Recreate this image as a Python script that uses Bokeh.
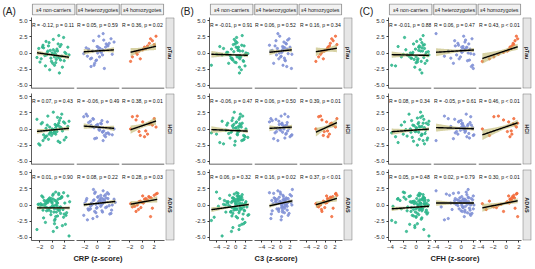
import numpy as np
from bokeh.plotting import figure
from bokeh.layouts import row, column
from bokeh.models import Range1d, FactorRange, LinearAxis, FixedTicker, PrintfTickFormatter, Span
from bokeh.embed import file_html
from bokeh.resources import INLINE
from bokeh.core.properties import value

# ---------------- data ----------------
GENOTYPES = ["ε4 non-carriers", "ε4 heterozygotes", "ε4 homozygotes"]
OUTCOMES = ["pTau", "HCI", "ADAS"]
PANEL_LABELS = ["(A)", "(B)", "(C)"]
X_TITLES = ["CRP (z-score)", "C3 (z-score)", "CFH (z-score)"]
X_RANGES = [(-3.4, 3.7), (-5.6, 3.6), (-4.3, 2.4)]
X_TICKS = [[-2, 0, 2], [-4, -2, 0, 2], [-4, -2, 0, 2]]
Y_TICKS = [-5.0, -2.5, 0.0, 2.5, 5.0]
Y_RANGE = (-5.5, 5.5)

# outcome z-scores (same subjects in every panel)
y_ptau_nc = [0.4, -0.8, 1.2, -1.5, 0.1, -0.3, 2.1, -2.2, 0.7, -0.6, 1.6, -1.1, 0.0, -0.4, 0.9, -1.9, 0.3, 1.4, -0.9, -0.2, 2.4, -1.3, 0.6, -0.7, 1.0, -2.6, 0.2, -0.1, 1.8, -1.6, -0.5, 0.8, -1.0, 1.1, -0.3, 0.5, -1.4, 2.7, -0.8, 0.3, -2.0, 1.3, -0.6, 0.1, -1.2, 0.9, -0.2, -3.1]
y_ptau_het = [0.5, -0.9, 1.4, 0.1, -1.6, 2.2, 0.8, -0.3, 1.0, -2.4, 0.3, 1.7, -0.6, 0.6, 3.0, -1.2, 0.2, 1.1, -0.1, 2.6, -0.8, 0.9, 0.4, -1.9, 1.5, 0.0, -0.5, 2.0, 0.7, -1.1, 1.2, -2.1, 0.5, 1.9, -0.2, 0.9]
y_ptau_hom = [0.3, 1.5, -0.6, 0.9, 2.6, 0.1, -1.3, 1.1, 0.5, 1.9, -0.2, 0.7, 2.2, -0.9, 1.3]
y_hci_nc = [-0.5, 1.3, -1.8, 0.2, 0.9, -1.1, 2.6, -0.3, -2.3, 0.6, -0.8, 1.7, 0.0, -1.4, 0.4, -0.6, 2.0, -1.9, 0.8, -0.2, 1.1, -1.0, -0.4, 1.5, -2.1, 0.3, 0.7, -1.3, 0.1, -0.7, 2.3, -0.9, 0.5, -1.6, 1.2, -0.1, -2.5, 0.9, -0.5, 1.8, -1.2, 0.2, -0.3, 0.6, -1.7, 1.0, -0.8, 0.4]
y_hci_het = [0.3, 1.2, -0.7, 0.8, -1.5, 0.1, 2.3, -0.4, 0.6, -1.0, 1.6, 0.0, -0.2, 1.0, -1.8, 0.5, 0.9, -0.6, 1.9, -0.1, 0.4, -1.2, 1.3, 0.2, -0.8, 0.7, 2.0, -0.3, 0.1, -1.4, 1.1, 0.6, -0.5, 1.5, -0.9, 0.3]
y_hci_hom = [-0.4, 0.8, 1.9, -1.2, 0.3, 1.4, 0.0, -0.8, 1.1, 0.6, 2.0, -0.3, 0.9, -1.0, 1.6]
y_adas_nc = [0.6, -0.4, 1.2, -1.8, 0.3, -0.9, 1.7, -3.2, 0.1, -0.6, 0.9, -1.3, 0.5, -0.2, 1.4, -2.4, 0.8, -0.7, 0.0, -1.1, 1.9, -0.3, 0.4, -3.8, 1.0, -0.5, 0.7, -1.6, 0.2, -0.1, 1.3, -2.0, 0.6, -0.8, -4.8, 0.9, -0.4, 1.6, -1.0, 0.3, -2.7, 1.1, -0.6, 0.5, -1.4, 0.0, 2.0, -0.9, 0.8, -3.5, 0.2, -0.3, 1.5, -1.2, 0.4, -2.2, 0.7, -0.7, 1.0, -1.7, 0.1, -0.2, 1.8, -0.5, -3.0, 0.6, -1.1, 0.3, 1.2, -0.8, -2.9, 0.5, -0.4, 0.9, -1.5, 0.0, 1.4, -0.6, -4.1, 0.8, -1.9, 0.2, -0.1, 1.1]
y_adas_het = [0.4, -0.6, 1.1, 0.0, 1.8, -1.3, 0.7, 0.2, -0.4, 1.4, -2.1, 0.9, 0.5, -0.8, 2.2, 0.1, -0.2, 1.0, -1.6, 0.6, 0.3, 1.6, -0.9, 0.8, -0.1, 1.2, -2.3, 0.4, 0.9, -0.5, 1.9, 0.2, -1.1, 0.7, 0.0, 1.3, -0.7, 0.5, -1.8, 1.1, 0.3, -0.3, 2.0, 0.6, -1.4, 0.1, 0.9, -0.6, 1.5, 0.4, -1.0, 0.8, 0.2, -0.2, 1.7, -1.2, 0.5, 1.0, -0.4, 0.3, 2.4, -0.8, 0.7, 0.0]
y_adas_hom = [0.5, 1.2, -0.3, 0.9, 1.7, -1.0, 0.2, 0.7, 1.4, -0.5, 0.0, 1.0, -1.8, 0.6, 1.5, 0.3, -0.2, 1.1, 0.8, -0.7, 1.8, 0.4, 0.1, 1.3, -0.4]

# predictor z-scores per panel
x_crp_nc = [-0.3, 1.2, -1.5, 0.6, 2.1, -0.9, 0.2, 1.7, -2.2, 0.9, -0.5, 1.4, 0.0, -1.2, 2.6, 0.4, -0.7, 1.0, -1.8, 0.3, 1.9, -0.1, 0.8, -2.5, 1.3, -0.4, 0.5, 2.3, -1.0, 0.1, 1.6, -1.4, 0.7, -0.6, 2.8, 0.2, -2.0, 1.1, -0.2, 0.9, -1.1, 1.5, 0.4, -0.8, 2.0, -1.6, 0.6, 1.2, -0.3, 0.8, -1.9, 1.4, 0.1, 2.4, -0.7, 0.5, -1.3, 1.8, -0.1, 0.9, -2.3, 0.3, 1.1, -0.5, 2.2, -1.0, 0.7, 0.0, 1.6, -1.5, 0.4, 2.9, -0.9, 1.0, -0.2, 0.6, -1.7, 1.3, 0.2, -0.6, 1.9, -1.2, 0.8, -0.4]
x_crp_het = [0.2, -1.1, 1.5, 0.7, -0.4, 2.3, -1.8, 0.9, 0.0, 1.2, -0.7, 2.8, 0.4, -1.4, 1.0, -0.2, 0.6, 1.8, -2.2, 0.3, -0.9, 1.4, 0.8, -0.5, 2.0, 0.1, -1.6, 1.1, 0.5, -0.1, 1.7, -1.0, 0.9, -0.6, 2.5, 0.2, -1.3, 1.3, 0.0, 0.7, -2.0, 1.6, -0.3, 0.4, 2.1, -0.8, 1.0, -1.5, 0.6, 3.0, -0.4, 1.2, 0.3, -1.1, 1.9, -0.2, 0.8, -1.7, 1.4, 0.1, -0.6, 2.4, 0.5, -0.9]
x_crp_hom = [-0.5, 1.2, -1.6, 0.4, 2.3, -1.0, -1.9, 0.9, 0.1, 1.7, -0.8, 0.6, 1.4, -0.3, 2.0, 0.2, -1.2, 1.5, 0.8, -0.6, 2.5, 0.0, -1.4, 1.1, -0.2]
x_c3_nc = [0.5, -0.8, 1.3, 0.1, -1.7, 1.9, -0.3, 0.8, -2.6, 1.1, 0.3, -0.6, 2.2, -1.2, 0.6, -5.2, 1.5, -0.1, 0.9, -2.1, 0.2, 1.7, -0.9, 0.7, -3.4, 1.2, -0.4, 2.6, 0.0, -1.5, 1.0, 0.4, -0.7, 1.8, -2.9, 0.6, -0.2, 1.4, -1.0, 0.9, 2.0, -0.5, 0.3, -1.9, 1.6, 0.1, -4.1, 0.8, 1.1, -0.6, 0.4, 2.4, -1.3, 0.7, -0.1, 1.5, -2.4, 0.2, 1.0, -0.8, 1.9, -3.7, 0.5, -0.3, 1.3, 0.0, -1.1, 2.1, 0.6, -0.4, 1.7, -1.6, 0.9, -0.2, 2.8, -2.2, 0.3, 1.2, -0.9, 0.8, -4.6, 1.4, 0.1, -0.7]
x_c3_het = [0.6, -0.4, 1.2, 0.2, -1.5, 1.8, 0.9, -0.9, 0.4, 2.3, -2.1, 0.7, 0.0, 1.4, -0.6, 1.0, 0.3, -1.2, 1.6, -0.2, 0.8, 2.0, -1.8, 0.5, 1.1, -0.3, 0.1, 1.5, -0.7, 0.9, -2.4, 1.3, 0.4, -1.0, 2.4, 0.6, -0.5, 1.7, 0.2, -1.4, 1.0, 0.7, -0.1, 1.9, -2.0, 0.3, 1.2, -0.8, 0.5, 2.2, -0.4, 0.9, -1.6, 1.4, 0.0, 0.8, -1.1, 1.6, 0.2, -0.6, 2.5, 0.4, -1.9, 1.1]
x_c3_hom = [-0.3, 1.0, -1.5, 0.5, 2.1, -0.8, -2.1, 0.8, 0.2, 1.6, -1.1, 0.4, 1.3, -0.5, 2.4, 0.0, -1.7, 1.2, 0.7, -0.9, 2.2, 0.3, -1.3, 1.5, -0.2]
x_cfh_nc = [0.4, -0.7, 1.1, 0.0, 1.6, -1.4, 0.7, -0.2, 1.3, -2.3, 0.9, 0.2, -0.9, 1.8, 0.5, -3.8, 1.0, -0.4, 0.3, 1.5, -1.8, 0.8, -0.1, 1.2, -2.8, 0.6, 1.9, -0.6, 0.1, 1.4, -1.1, 0.9, -0.3, 0.5, 2.0, -1.6, 0.2, 1.1, -0.8, 0.7, -3.2, 1.3, 0.0, -0.5, 1.7, 0.4, -2.0, 0.9, 0.6, -0.2, 1.2, -1.3, 0.3, 1.8, -0.7, 0.8, -2.5, 1.0, 0.1, -0.4, 1.5, -3.6, 0.5, 0.9, -1.0, 1.3, -0.1, 0.7, -1.9, 1.6, 0.2, -0.6, 1.1, -2.9, 0.4, 1.9, -0.9, 0.6, -1.5, 1.4, 0.0, -0.3, 0.8, 1.2]
x_cfh_het = [0.5, -0.3, 1.2, 0.1, -1.2, 1.7, 0.8, -0.7, 0.3, 1.9, -2.0, 0.6, -0.1, 1.4, -3.9, 1.0, 0.2, -0.9, 1.5, 0.4, -1.6, 0.9, 0.0, 1.8, -0.5, 1.1, -2.6, 0.7, 0.3, 1.3, -0.4, 1.6, 0.6, -1.0, 2.0, 0.1, -1.4, 1.2, 0.5, -0.2, 1.7, -3.1, 0.8, 0.0, 1.4, -0.8, 0.4, 1.9, -1.8, 0.9, 0.2, -0.6, 1.3, 0.7, -2.3, 1.0, -0.1, 1.6, 0.3, -1.1, 1.1, 0.6, -0.4, 1.5]
x_cfh_hom = [0.2, 1.1, -1.9, 0.6, 1.6, -0.4, -3.7, 0.9, 0.4, 1.4, -1.2, 0.8, 1.8, -2.6, 1.2, 0.5, -2.2, 1.3, 0.7, -3.1, 1.7, 0.1, -0.8, 1.0, -1.5]

# fitted lines: rows = outcome, cols = genotype
fit_slope_crp = [[-0.13, 0.06, 0.22], [0.09, -0.07, 0.32], [0.00, 0.10, 0.17]]
fit_icpt_crp = [[-0.29, 0.32, 0.54], [-0.15, 0.30, 0.50], [-0.45, 0.25, 0.45]]
fit_slope_c3 = [[-0.02, 0.08, 0.12], [-0.03, 0.04, 0.33], [0.10, 0.16, 0.22]]
fit_icpt_c3 = [[-0.30, 0.30, 0.45], [-0.25, 0.20, 0.20], [-0.20, 0.25, 0.50]]
fit_slope_cfh = [[-0.02, 0.06, 0.33], [0.07, -0.03, 0.34], [0.07, 0.00, 0.20]]
fit_icpt_cfh = [[-0.33, 0.35, 0.37], [-0.15, 0.10, 0.35], [-0.33, 0.30, 0.30]]
sample_n = [[150, 110, 38], [150, 110, 38], [300, 240, 65]]

stats_crp = [["R = -0.12, p = 0.11", "R = 0.05, p = 0.59", "R = 0.36, p = 0.02"],
             ["R = 0.07, p = 0.43", "R = -0.06, p = 0.49", "R = 0.38, p = 0.01"],
             ["R = 0.01, p = 0.90", "R = 0.08, p = 0.22", "R = 0.28, p = 0.03"]]
stats_c3 = [["R = -0.01, p = 0.91", "R = 0.06, p = 0.52", "R = 0.16, p = 0.34"],
            ["R = -0.06, p = 0.47", "R = 0.06, p = 0.50", "R = 0.39, p = 0.01"],
            ["R = 0.06, p = 0.32", "R = 0.16, p = 0.02", "R = 0.37, p < 0.01"]]
stats_cfh = [["R = -0.01, p = 0.88", "R = 0.06, p = 0.47", "R = 0.43, p < 0.01"],
             ["R = 0.08, p = 0.34", "R = -0.05, p = 0.61", "R = 0.46, p < 0.01"],
             ["R = 0.05, p = 0.48", "R = 0.02, p = 0.79", "R = 0.30, p < 0.01"]]

# ---------------- assembly ----------------
Y_DATA = [[y_ptau_nc, y_ptau_het, y_ptau_hom],
          [y_hci_nc, y_hci_het, y_hci_hom],
          [y_adas_nc, y_adas_het, y_adas_hom]]
X_DATA = [[x_crp_nc, x_crp_het, x_crp_hom],
          [x_c3_nc, x_c3_het, x_c3_hom],
          [x_cfh_nc, x_cfh_het, x_cfh_hom]]
FITS = [(fit_slope_crp, fit_icpt_crp), (fit_slope_c3, fit_icpt_c3), (fit_slope_cfh, fit_icpt_cfh)]
STATS = [stats_crp, stats_c3, stats_cfh]

COLORS = ["#2db58b", "#8090d6", "#f26b3b"]
BAND = "#bdb468"
AXIS_COL = "#333333"
FONT = "Liberation Sans"
RESID_SD = 1.0

LW, FW, FH, SW = 31, 43, 71, 9
ROW_TB = [(0, 2), (3, 2), (3, 13)]
TITLE_H = 16
PANEL_W = [178, 179, 178]


def base_fig(fw, fh, xr, yr, bl=0, br=0, bt=0, bb=0):
    p = figure(frame_width=fw, frame_height=fh, x_range=xr, y_range=yr,
               x_axis_location=None, y_axis_location=None, toolbar_location=None,
               output_backend="svg", title=None,
               min_border_left=bl, min_border_right=br, min_border_top=bt, min_border_bottom=bb)
    p.outline_line_color = None
    p.xgrid.visible = False
    p.ygrid.visible = False
    p.background_fill_color = "white"
    p.border_fill_color = "white"
    return p


def style_axis(ax):
    ax.axis_line_color = AXIS_COL
    ax.axis_line_width = 0.8
    ax.major_tick_line_color = AXIS_COL
    ax.major_tick_out = 2
    ax.major_tick_in = 0
    ax.minor_tick_line_color = None
    ax.major_label_text_font = FONT
    ax.major_label_text_font_size = "6px"
    ax.major_label_text_color = "#333333"
    ax.major_label_standoff = 2


def facet(pi, r, g):
    xs_all = np.array(X_DATA[pi][g], dtype=float)
    ys = np.array(Y_DATA[r][g], dtype=float)
    xs = xs_all[:len(ys)]
    bt, bb = ROW_TB[r]
    bl = LW if g == 0 else 1
    xr = Range1d(*X_RANGES[pi])
    yr = Range1d(*Y_RANGE)
    p = base_fig(FW, FH, xr, yr, bl=bl, br=1, bt=bt, bb=bb)

    p.scatter(xs, ys, size=2.3, color=COLORS[g], alpha=0.85)

    slope = FITS[pi][0][r][g]
    icpt = FITS[pi][1][r][g]
    n = sample_n[r][g]
    grid = np.linspace(xs.min(), xs.max(), 60)
    yfit = icpt + slope * grid
    half = 1.96 * RESID_SD * np.sqrt(1.0 / n + (grid - xs.mean()) ** 2 / (n * xs.var()))
    p.varea(x=grid, y1=yfit - half, y2=yfit + half, fill_color=BAND, fill_alpha=0.6)
    p.line(grid, yfit, line_color="black", line_width=1.4)

    x0 = X_RANGES[pi][0] + 0.01 * (X_RANGES[pi][1] - X_RANGES[pi][0])
    p.text(x=[x0], y=[4.35], text=[STATS[pi][r][g]], text_font=value(FONT),
           text_font_size="5.1px", text_baseline="middle", text_align="left", text_color="#111111")

    if r < 2:
        p.add_layout(Span(location=Y_RANGE[0], dimension="width", line_color=AXIS_COL, line_width=1.6))
    else:
        ax = LinearAxis(ticker=FixedTicker(ticks=X_TICKS[pi]))
        style_axis(ax)
        p.add_layout(ax, "below")
    if g == 0:
        ay = LinearAxis(ticker=FixedTicker(ticks=Y_TICKS), formatter=PrintfTickFormatter(format="%.1f"))
        style_axis(ay)
        p.add_layout(ay, "left")
    return p


def strip(pi, r):
    bt, bb = ROW_TB[r]
    p = base_fig(SW, FH, Range1d(0, 1), Range1d(0, 1), bl=0, br=PANEL_W[pi] - LW - 3 * FW - 6 - SW, bt=bt, bb=bb)
    p.quad(left=[0.04], right=[0.96], bottom=[0.005], top=[0.995], fill_color="#e6e6e6", line_color="#808080", line_width=0.8)
    p.text(x=[0.5], y=[0.5], text=[OUTCOMES[r]], angle=-np.pi / 2, text_font=value(FONT),
           text_font_size="5.5px", text_font_style="bold", text_align="center", text_baseline="middle", text_color="#222222")
    return p


def header(pi):
    lab = base_fig(LW, 17, Range1d(0, LW), Range1d(0, 17))
    lab.text(x=[2], y=[9], text=[PANEL_LABELS[pi]], text_font=value(FONT), text_font_size="10px",
             text_baseline="middle", text_align="left", text_color="#222222")
    hw = 3 * FW + 4
    h = base_fig(hw, 12, FactorRange(*GENOTYPES), Range1d(-0.05, 1.05), bl=0,
                 br=PANEL_W[pi] - LW - hw, bt=3, bb=2)
    h.rect(x=GENOTYPES, y=[0.5] * 3, width=0.96, height=1.0, fill_color="#f2f2f2", line_color="#808080", line_width=0.8)
    h.text(x=GENOTYPES, y=[0.5] * 3, text=GENOTYPES, text_font=value(FONT), text_font_size="5.3px",
           text_align="center", text_baseline="middle", text_color="#222222")
    return row(lab, h)


def x_title(pi):
    hw = 3 * FW + 4
    t = base_fig(hw, TITLE_H, Range1d(0, 1), Range1d(0, 1), bl=LW, br=PANEL_W[pi] - LW - hw)
    t.text(x=[0.5], y=[0.98], text=[X_TITLES[pi]], text_font=value(FONT), text_font_size="7.5px",
           text_font_style="bold", text_align="center", text_baseline="top", text_color="#222222")
    return t


panels = []
for pi in range(3):
    rows = [header(pi)]
    for r in range(3):
        rows.append(row(*[facet(pi, r, g) for g in range(3)], strip(pi, r)))
    rows.append(x_title(pi))
    panels.append(column(*rows))

root = row(*panels)
root.styles = {"position": "absolute", "left": "0px", "top": "0px"}

open("out.html", "w").write(file_html(root, INLINE))
